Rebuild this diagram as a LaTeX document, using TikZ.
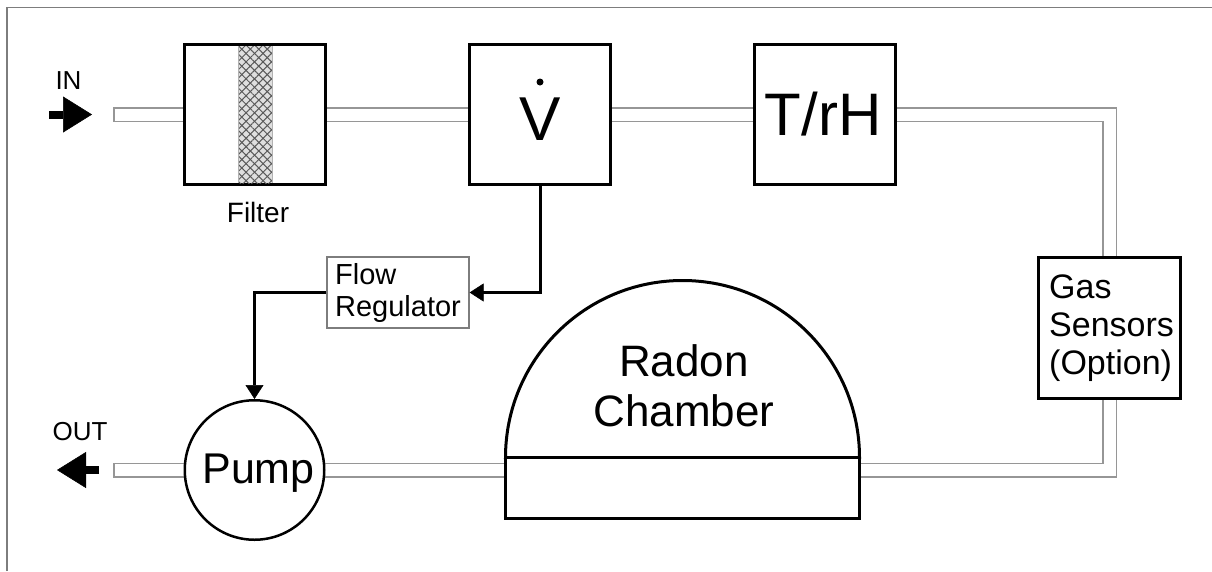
\documentclass[tikz,border=0pt]{standalone}
\usepackage{fontspec}
\setmainfont{Liberation Sans}
\usetikzlibrary{arrows.meta,patterns.meta}
\definecolor{pipegray}{RGB}{150,150,150}
\definecolor{framegray}{RGB}{125,125,125}
\begin{document}
\begin{tikzpicture}[x=1pt,y=-1pt,
  box/.style={draw=black,line width=3pt,fill=white,inner sep=0pt},
  ctrl/.style={line width=3pt,-{Triangle[length=14pt,width=18pt,line width=0.5pt]}},
  bigarrow/.style={line width=8pt,-{Triangle[length=29pt,width=36pt,line width=0.5pt]}},
  lbl/.style={inner sep=0pt,anchor=base}]
\useasboundingbox (0,0) rectangle (1212,571);
\fill[white] (0,0) rectangle (1212,571);
\draw[framegray,line width=1.5pt] (7,571) -- (7,7.5) -- (1212,7.5);

% pipe
\coordinate (pin) at (113,114.5);
\coordinate (pinw) at (114.5,114.5);
\coordinate (c1) at (1109.5,114.5);
\coordinate (c2) at (1109.5,470);
\coordinate (pout) at (113,470);
\coordinate (poutw) at (114.5,470);
\draw[pipegray,line width=15pt] (pin) -- (c1) -- (c2) -- (pout);
\draw[white,line width=12pt] (pinw) -- (c1) -- (c2) -- (poutw);

% boxes
\node[box,minimum width=141pt,minimum height=140pt] (filter) at (255,114.5) {};
\fill[gray!25] (238,46) rectangle (272,183);
\fill[pattern={Lines[angle=45,distance=6pt,line width=1pt]},pattern color=gray!70!black] (238,46) rectangle (272,183);
\fill[pattern={Lines[angle=-45,distance=6pt,line width=1pt]},pattern color=gray!70!black] (238,46) rectangle (272,183);
\draw[gray!60,line width=1pt] (238,46) -- (238,183) (272,46) -- (272,183);

\node[box,minimum width=141pt,minimum height=140pt] (vbox) at (540,114.5) {};
\node[box,minimum width=141pt,minimum height=140pt] (trh) at (825,114.5) {};
\node[box,minimum width=142pt,minimum height=141pt] (gas) at (1109.5,328) {};
\node[box,circle,line width=2.5pt,minimum size=139.5pt] (pump) at (254.5,470) {};
\node[draw=framegray,line width=1.2pt,fill=white,minimum width=142pt,minimum height=71pt,inner sep=0pt,
      align=left,font=\fontsize{29}{32}\selectfont] (flowreg) at (398,292.5) {Flow\\Regulator};

% radon chamber
\draw[line width=3pt,fill=white] (505.5,457.5) arc[start angle=180,end angle=360,radius=177] -- cycle;
\draw[line width=3pt,fill=white] (505.5,457.5) rectangle (859.5,518.5);

% labels
\node[lbl,font=\fontsize{62}{62}\selectfont] (vtxt) at (540,140) {V};
\fill (540,82) circle[radius=3.5pt];
\node[lbl,font=\fontsize{60}{60}\selectfont] (trhtxt) at (823,135) {T/rH};
\node[lbl,font=\fontsize{28}{28}\selectfont] (filtertxt) at (258,222) {Filter};
\node[lbl,font=\fontsize{26}{26}\selectfont] (intxt) at (68.5,89) {IN};
\node[lbl,font=\fontsize{26}{26}\selectfont] (outtxt) at (80,440) {OUT};
\node[lbl,font=\fontsize{43}{43}\selectfont] (pumptxt) at (258.5,483) {Pump};
\node[inner sep=0pt,align=center,font=\fontsize{44}{50}\selectfont] (radon) at (684,386) {Radon\\Chamber};
\node[inner sep=0pt,anchor=west,align=left,font=\fontsize{34}{38}\selectfont] (gastxt) at (1049,328) {Gas\\Sensors\\(Option)};

% control lines
\draw[ctrl] (vbox.south) |- (flowreg.east);
\draw[ctrl] (flowreg.west) -| (pump.north);

% in / out arrows
\coordinate (inA) at (49,114.5);
\coordinate (inB) at (92,114.5);
\draw[bigarrow] (inA) -- (inB);
\coordinate (outA) at (99,470);
\coordinate (outB) at (57,470);
\draw[bigarrow] (outA) -- (outB);
\end{tikzpicture}
\end{document}
